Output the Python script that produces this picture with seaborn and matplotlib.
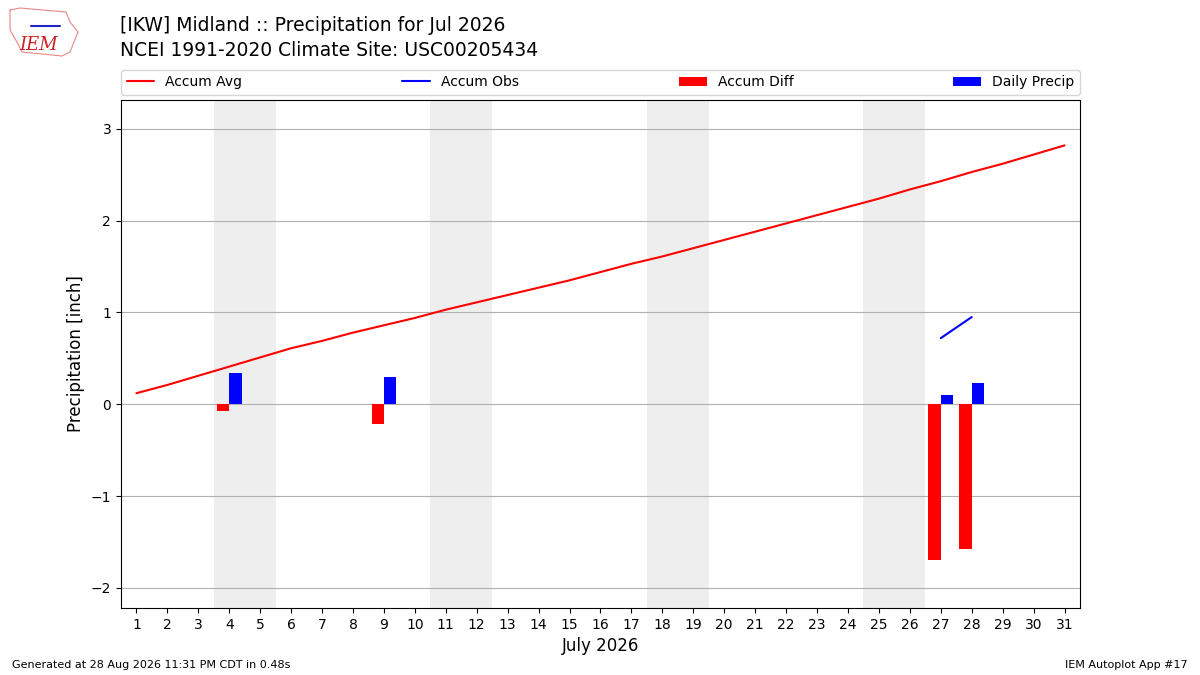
import matplotlib
matplotlib.use("Agg")
import matplotlib.pyplot as plt
import numpy as np
import pandas as pd
import seaborn as sns

# days of July 2026
days = list(range(1, 32))
accum_avg = [0.12, 0.21, 0.31, 0.41, 0.51, 0.61, 0.69, 0.78, 0.86, 0.94,
             1.03, 1.11, 1.19, 1.27, 1.35, 1.44, 1.53, 1.61, 1.70, 1.79,
             1.88, 1.97, 2.06, 2.15, 2.24, 2.34, 2.43, 2.53, 2.62, 2.72, 2.82]
obs_days = [27, 28]
accum_obs = [0.72, 0.95]
precip_days = [4, 9, 27, 28]
daily_precip = [0.34, 0.30, 0.10, 0.23]
diff_days = [4, 9, 27, 28]
accum_diff = [-0.07, -0.22, -1.70, -1.58]
weekends = [(4, 5), (11, 12), (18, 19), (25, 26)]

sns.set_style("white", rc={"text.color": "black", "axes.labelcolor": "black",
                           "xtick.color": "black", "ytick.color": "black",
                           "patch.edgecolor": "none"})
plt.rcParams["font.family"] = ["DejaVu Sans"]

fig = plt.figure(figsize=(12, 6.75), dpi=100)
ax = fig.add_axes([0.1008, 0.0993, 0.7992, 0.7526])

for start, end in weekends:
  ax.axvspan(start - 0.5, end + 0.5, color="#eeeeee", zorder=0, lw=0)

df_avg = pd.DataFrame({"day": days, "val": accum_avg})
df_obs = pd.DataFrame({"day": obs_days, "val": accum_obs})
sns.lineplot(data=df_avg, x="day", y="val", color="r", ax=ax,
             label="Accum Avg", zorder=3)
sns.lineplot(data=df_obs, x="day", y="val", color="b", ax=ax,
             label="Accum Obs", zorder=3)
ax.bar(diff_days, accum_diff, width=-0.4, align="edge", color="r",
       label="Accum Diff", zorder=2, lw=0)
ax.bar(precip_days, daily_precip, width=0.4, align="edge", color="b",
       label="Daily Precip", zorder=2, lw=0)

ax.set_xlim(0.5, 31.5)
ax.set_ylim(-2.22, 3.315)
ax.set_xticks(days)
ax.set_yticks([-2, -1, 0, 1, 2, 3])
ax.tick_params(axis="both", labelsize=10, length=3.5, direction="out",
               left=True, bottom=True)
ax.grid(axis="y", color="#b0b0b0", lw=0.8)
ax.grid(axis="x", visible=False)
ax.set_axisbelow(True)
for s in ax.spines.values():
  s.set_color("black")
  s.set_linewidth(0.8)
ax.set_xlabel("July 2026", fontsize=12)
ax.set_ylabel("Precipitation [inch]", fontsize=12)

ax.legend(loc="lower left", bbox_to_anchor=(0, 1.01, 1, 0.05), ncol=4,
          mode="expand", fontsize=10, frameon=True, borderaxespad=0)

fig.text(0.1, 0.977, "[IKW] Midland :: Precipitation for Jul 2026\n"
         "NCEI 1991-2020 Climate Site: USC00205434", fontsize=13.5,
         va="top", ha="left", linespacing=1.4)

# rough IEM logo (state outline + letters)
outline_px = [(10, 10), (20, 8), (66, 12), (70, 22), (78, 32), (74, 42),
              (70, 52), (62, 56), (22, 52), (18, 44), (10, 30), (10, 10)]
ox = [p[0] / 1200 for p in outline_px]
oy = [1 - p[1] / 675 for p in outline_px]
fig.add_artist(matplotlib.lines.Line2D(ox, oy, color="#e88888", lw=0.8,
                                       transform=fig.transFigure))
fig.text(0.032, 0.933, "IEM", color="#cc2222", fontsize=13,
         family="DejaVu Serif", style="italic", ha="center", va="center")
fig.add_artist(matplotlib.lines.Line2D([0.026, 0.05], [0.962, 0.962],
                                       color="#2222cc", lw=1.5,
                                       transform=fig.transFigure))

fig.text(0.01, 0.015, "Generated at 28 Aug 2026 11:31 PM CDT in 0.48s",
         fontsize=8, ha="left", va="center")
fig.text(0.99, 0.015, "IEM Autoplot App #17", fontsize=8, ha="right",
         va="center")

fig.savefig("out.png", dpi=100)
